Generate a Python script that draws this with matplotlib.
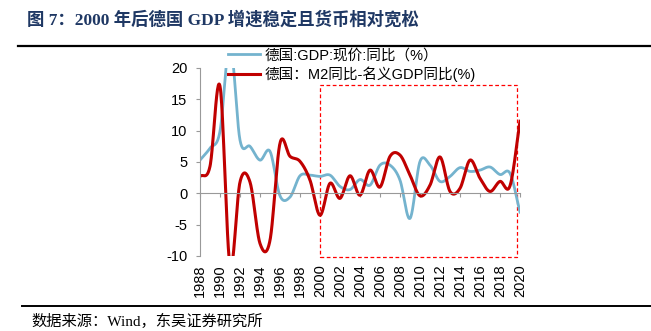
import numpy as np
import matplotlib
matplotlib.use("Agg")
import matplotlib.pyplot as plt
from matplotlib.patches import Rectangle

plt.rcParams['font.family'] = ['Liberation Sans', 'Noto Sans CJK SC', 'DejaVu Sans']
plt.rcParams['axes.unicode_minus'] = False

# annual data
years = list(range(1988, 2021))
gdp = [5.3, 7.2, 9.9, 24.0, 8.5, 7.5, 5.3, 6.7, -0.4, -0.6, 2.8, 2.9,
       2.7, 2.9, 1.1, 0.6, 2.2, 1.3, 4.5, 4.5, 2.1, -4.0, 5.1, 4.5,
       1.9, 2.7, 4.1, 3.5, 3.7, 4.2, 3.0, 3.2, -3.0]
m2_gap = [2.7, 4.3, 17.1, -11.5, 1.8, 1.8, -8.0, -7.5, 8.0, 5.9, 5.1, 2.1,
          -3.5, 1.6, -0.8, 2.8, -0.3, 3.7, 1.0, 5.9, 6.1, 2.9, -0.4, 1.3,
          5.8, 0.3, 0.8, 5.3, 2.4, 0.3, 1.9, 1.2, 11.5]
xticks = list(range(1988, 2021, 2))
yticks = [-10, -5, 0, 5, 10, 15, 20]

label_gdp = '德国:GDP:现价:同比（%）'
label_m2 = '德国：M2同比-名义GDP同比(%)'
title = '图 7：2000 年后德国 GDP 增速稳定且货币相对宽松'
source = '数据来源：Wind，东吴证券研究所'


def smooth(x, y, n=24):
    # Catmull-Rom style smoothing (like a spreadsheet "smoothed line")
    x = np.asarray(x, float)
    y = np.asarray(y, float)
    px = np.concatenate([[2 * x[0] - x[1]], x, [2 * x[-1] - x[-2]]])
    py = np.concatenate([[2 * y[0] - y[1]], y, [2 * y[-1] - y[-2]]])
    xs, ys = [], []
    for i in range(1, len(px) - 2):
        t = np.linspace(0, 1, n, endpoint=False)
        for arr, out in ((px, xs), (py, ys)):
            p0, p1, p2, p3 = arr[i - 1], arr[i], arr[i + 1], arr[i + 2]
            out.extend(0.5 * (2 * p1 + (-p0 + p2) * t
                              + (2 * p0 - 5 * p1 + 4 * p2 - p3) * t ** 2
                              + (-p0 + 3 * p1 - 3 * p2 + p3) * t ** 3))
    xs.append(x[-1])
    ys.append(y[-1])
    return np.array(xs), np.array(ys)


fig = plt.figure(figsize=(6.51, 3.31), dpi=100)
ax = fig.add_axes([0.3072, 0.2266, 0.4916, 0.568])

xs, ys = smooth(years, gdp)
ax.plot(xs, ys, color='#74B3CE', lw=2.0, label=label_gdp)
xs, ys = smooth(years, m2_gap)
ax.plot(xs, ys, color='#C00000', lw=2.2, label=label_m2)

ax.set_xlim(1988, 2020)
ax.set_ylim(-10, 20)
ax.set_yticks(yticks)
ax.tick_params(axis='y', labelsize=10.5, length=3, color='#999999', pad=6)

for s in ['top', 'right']:
    ax.spines[s].set_visible(False)
ax.spines['left'].set_color('#999999')
ax.spines['bottom'].set_position(('data', 0))
ax.spines['bottom'].set_color('#999999')
ax.set_xticks(xticks)
ax.tick_params(axis='x', length=3, color='#999999', labelbottom=False)

sec = ax.secondary_xaxis(0)
sec.set_xticks(xticks)
sec.set_xticklabels([str(v) for v in xticks], rotation=90, fontsize=10.5)
sec.tick_params(length=0, pad=6)
sec.spines['bottom'].set_visible(False)

ax.add_patch(Rectangle((2000, -10.2), 19.7, 27.5, fill=False, ec='#FF0000',
                       lw=0.9, ls=(0, (3, 2)), clip_on=False))

leg = ax.legend(loc='upper left', bbox_to_anchor=(0.07, 1.135), frameon=False,
                fontsize=10.5, handlelength=2.2, handletextpad=0.3,
                labelspacing=0.3, borderaxespad=0)

fig.text(0.041, 0.94, title, fontsize=12.5, fontweight='bold', color='#1F3864',
         va='center', family=['Liberation Serif', 'Noto Sans CJK SC'])
fig.add_artist(plt.Line2D([0.028, 1.0], [0.861, 0.861], color='black', lw=1.6))
fig.add_artist(plt.Line2D([0.034, 1.0], [0.077, 0.077], color='black', lw=1.4))
fig.text(0.049, 0.028, source, fontsize=11, va='center',
         family=['Liberation Serif', 'Noto Sans CJK SC'])

fig.savefig('out.png', dpi=100)
